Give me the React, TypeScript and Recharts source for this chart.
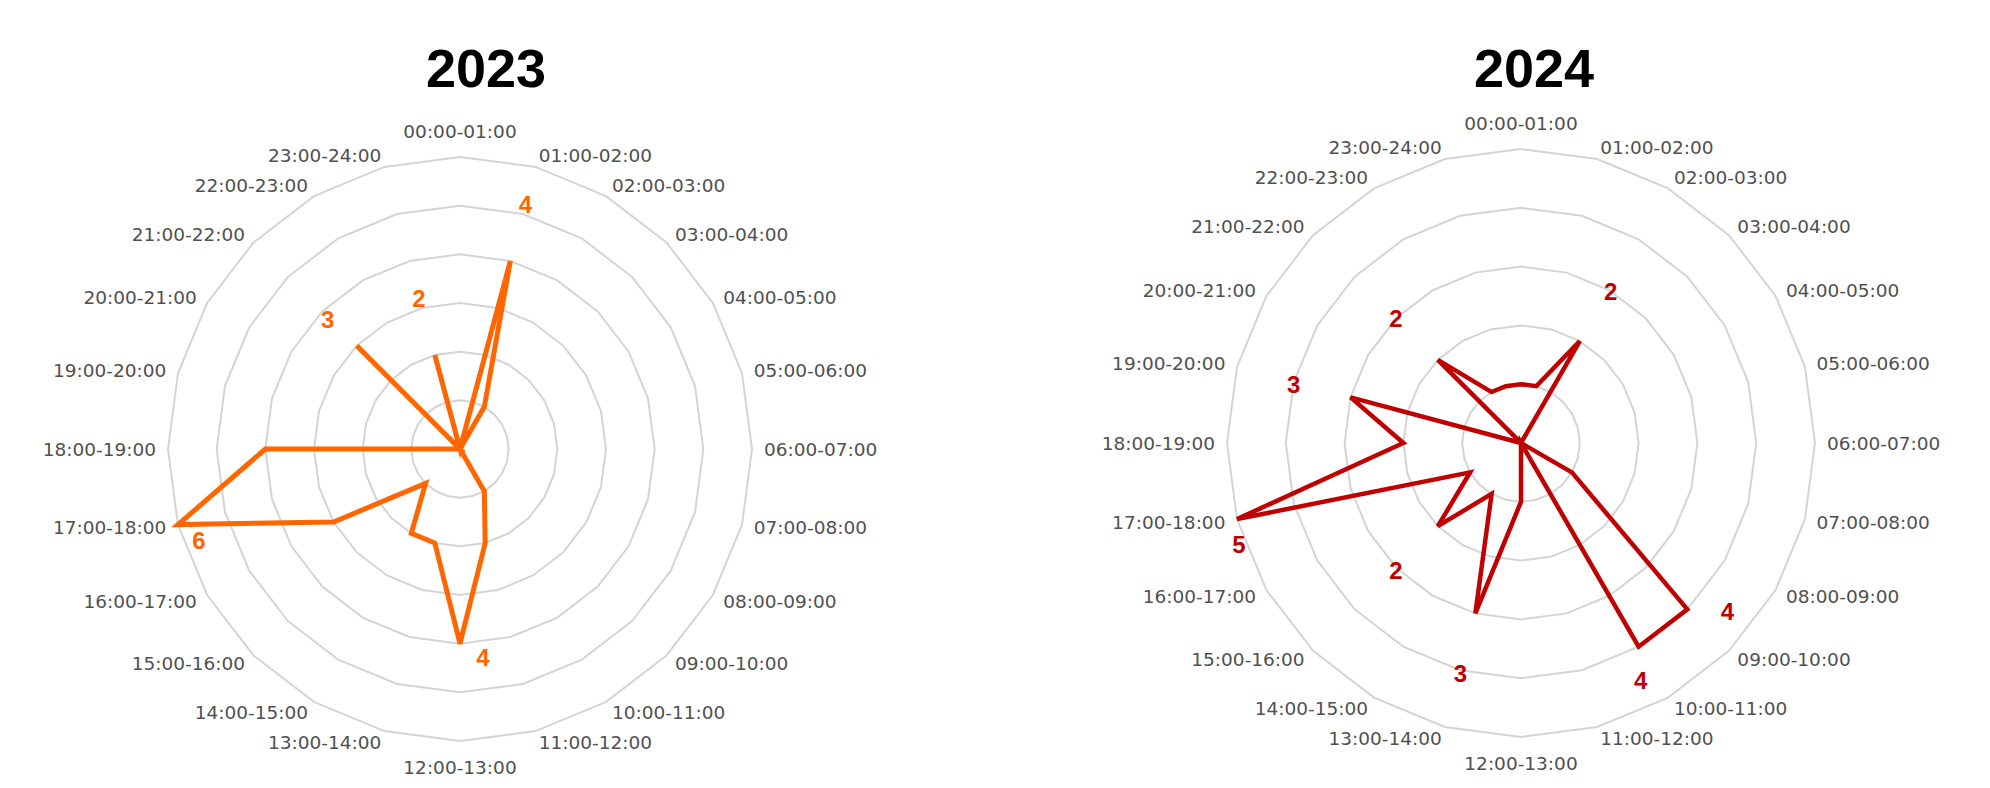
import { RadarChart, Radar, PolarGrid, PolarAngleAxis, PolarRadiusAxis } from "recharts";

const hours = [
  "00:00-01:00", "01:00-02:00", "02:00-03:00", "03:00-04:00", "04:00-05:00", "05:00-06:00",
  "06:00-07:00", "07:00-08:00", "08:00-09:00", "09:00-10:00", "10:00-11:00", "11:00-12:00",
  "12:00-13:00", "13:00-14:00", "14:00-15:00", "15:00-16:00", "16:00-17:00", "17:00-18:00",
  "18:00-19:00", "19:00-20:00", "20:00-21:00", "21:00-22:00", "22:00-23:00", "23:00-24:00",
];

const counts2023 = [0, 4, 1, 0, 0, 0, 0, 0, 0, 0, 1, 2, 4, 2, 2, 1, 3, 6, 4, 0, 0, 3, 0, 2];
const counts2024 = [1, 1, 2, 0, 0, 0, 0, 0, 1, 4, 4, 0, 1, 3, 1, 2, 1, 5, 2, 3, 0, 2, 1, 1];

// which points get a value label, and where the label sits relative to the point
const labelOffsets2023: Record<number, [number, number]> = {
  1: [15, -56],
  12: [23, 14],
  17: [21, 16],
  21: [-29, -26],
  23: [-16, -56],
};
const labelOffsets2024: Record<number, [number, number]> = {
  2: [31, -50],
  9: [40, 2],
  10: [2, 34],
  13: [-15, 60],
  15: [-42, 44],
  17: [2, 25],
  19: [-57, -13],
  21: [-42, -41],
};

const ORANGE = "#FF6600";
const RED = "#C00000";
const GRID = "#d4d4d4";

const rows2023 = hours.map((hour, i) => ({ hour, value: counts2023[i] }));
const rows2024 = hours.map((hour, i) => ({ hour, value: counts2024[i] }));

function HourTick(props: any) {
  const { payload, cx, cy, r } = props;
  const a = (payload.coordinate * Math.PI) / 180;
  const c = Math.cos(a);
  const s = Math.sin(a);
  const x = cx + (r + 12) * c;
  let y = cy - (r + 12) * s;
  const flat = Math.abs(c) < 0.01;
  if (flat) y -= s * 14;
  const anchor = flat ? "middle" : c > 0 ? "start" : "end";
  return (
    <text
      x={x}
      y={y}
      textAnchor={anchor}
      dominantBaseline="central"
      fill="#505050"
      fontSize={18.5}
      fontFamily="DejaVu Sans"
    >
      {payload.value}
    </text>
  );
}

function valueDot(values: number[], offsets: Record<number, [number, number]>, color: string) {
  return (props: any) => {
    const { cx, cy, index } = props;
    const off = offsets[index];
    if (!off) return <g key={`d-${index}`} />;
    return (
      <text
        key={`d-${index}`}
        x={cx + off[0]}
        y={cy + off[1]}
        textAnchor="middle"
        dominantBaseline="central"
        fill={color}
        fontSize={24}
        fontWeight="bold"
        fontFamily="Liberation Sans, Arial, sans-serif"
      >
        {values[index]}
      </text>
    );
  };
}

interface PanelProps {
  rows: { hour: string; value: number }[];
  values: number[];
  offsets: Record<number, [number, number]>;
  color: string;
  max: number;
  cx: number;
  cy: number;
  r: number;
  strokeWidth: number;
}

function Panel({ rows, values, offsets, color, max, cx, cy, r, strokeWidth }: PanelProps) {
  return (
    <RadarChart
      width={995}
      height={788}
      data={rows}
      cx={cx}
      cy={cy}
      outerRadius={r}
      margin={{ top: 0, right: 0, bottom: 0, left: 0 }}
    >
      <PolarGrid gridType="polygon" radialLines={false} stroke={GRID} strokeWidth={2} />
      <PolarAngleAxis
        dataKey="hour"
        tickLine={false}
        axisLine={false}
        tick={(p: any) => <HourTick {...p} cx={cx} cy={cy} r={r} />}
      />
      <PolarRadiusAxis domain={[0, max]} tickCount={max + 1} tick={false} axisLine={false} />
      <Radar
        dataKey="value"
        stroke={color}
        strokeWidth={strokeWidth}
        fill="none"
        fillOpacity={0}
        dot={valueDot(values, offsets, color)}
        activeDot={false}
        isAnimationActive={false}
      />
    </RadarChart>
  );
}

export default function App() {
  return (
    <div style={{ position: "absolute", left: 0, top: 0, width: 1990, height: 788, background: "#fff" }}>
      <div style={{ position: "absolute", left: 0, top: 0 }}>
        <Panel
          rows={rows2023}
          values={counts2023}
          offsets={labelOffsets2023}
          color={ORANGE}
          max={6}
          cx={460}
          cy={449}
          r={292}
          strokeWidth={5}
        />
      </div>
      <div style={{ position: "absolute", left: 995, top: 0 }}>
        <Panel
          rows={rows2024}
          values={counts2024}
          offsets={labelOffsets2024}
          color={RED}
          max={5}
          cx={526}
          cy={443}
          r={294}
          strokeWidth={4.5}
        />
      </div>
      <svg
        width={1990}
        height={788}
        style={{ position: "absolute", left: 0, top: 0, pointerEvents: "none" }}
      >
        <text x={486} y={87} textAnchor="middle" fontSize={54} fontWeight="bold" fontFamily="Liberation Sans, Arial, sans-serif" fill="#000">
          2023
        </text>
        <text x={1534} y={87} textAnchor="middle" fontSize={54} fontWeight="bold" fontFamily="Liberation Sans, Arial, sans-serif" fill="#000">
          2024
        </text>
      </svg>
    </div>
  );
}
